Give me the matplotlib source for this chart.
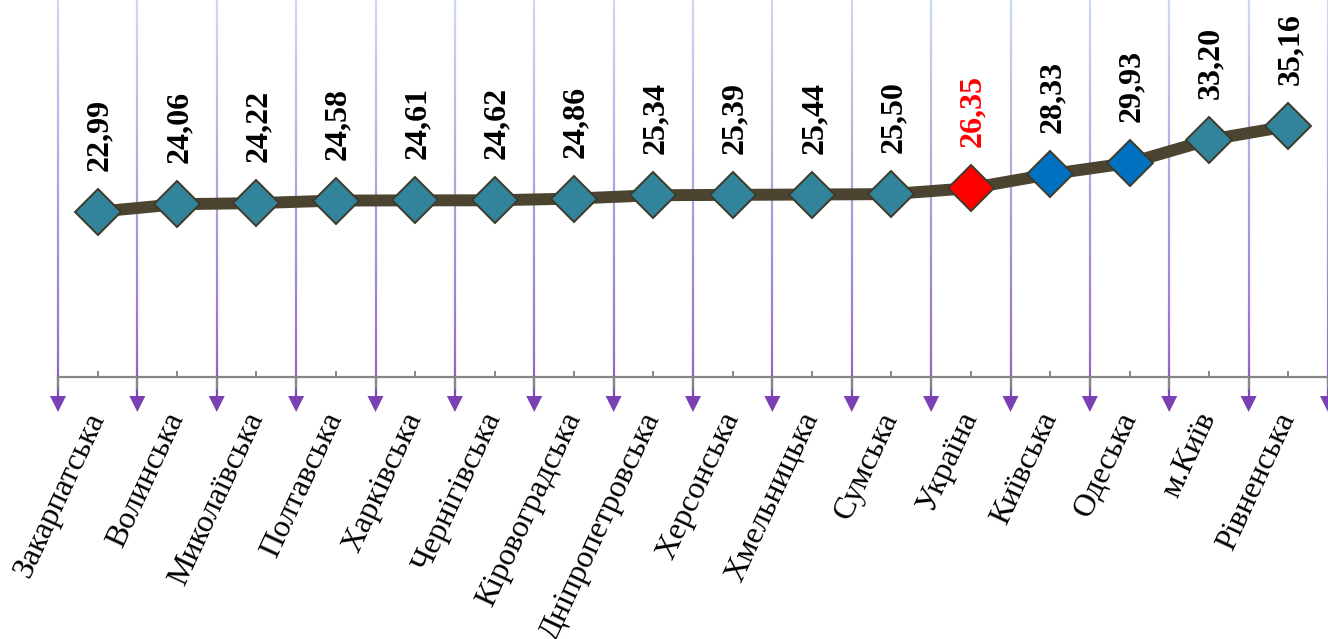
import matplotlib
matplotlib.use("Agg")
import matplotlib.pyplot as plt
import numpy as np
from matplotlib.collections import LineCollection
from matplotlib.patches import Polygon
from matplotlib.ticker import FixedLocator
import matplotlib.transforms as mtransforms

plt.rcParams['font.family'] = ['Liberation Serif', 'DejaVu Serif']

categories = ["Закарпатська", "Волинська", "Миколаївська", "Полтавська", "Харківська",
              "Чернігівська", "Кіровоградська", "Дніпропетровська", "Херсонська",
              "Хмельницька", "Сумська", "Україна", "Київська", "Одеська", "м.Київ",
              "Рівненська"]
values = [22.99, 24.06, 24.22, 24.58, 24.61, 24.62, 24.86, 25.34, 25.39, 25.44,
          25.50, 26.35, 28.33, 29.93, 33.20, 35.16]
value_labels = ["22,99", "24,06", "24,22", "24,58", "24,61", "24,62", "24,86", "25,34",
                "25,39", "25,44", "25,50", "26,35", "28,33", "29,93", "33,20", "35,16"]

teal = "#31849b"
blue = "#0070c0"
red = "#ff0000"
marker_colors = [teal] * 11 + [red, blue, blue, teal, teal]
label_colors = ["black"] * 11 + [red] + ["black"] * 4

W, H = 1328, 639
fig = plt.figure(figsize=(W / 100, H / 100), dpi=100)
axis_px = 376.5
ax = fig.add_axes([58 / W, (H - axis_px) / H, 1270 / W, axis_px / H])
n = len(categories)
x = np.arange(n)
ax.set_xlim(-0.5, n - 0.5)
ax.set_ylim(-0.41, 53.07)

for s in ["top", "left", "right"]:
    ax.spines[s].set_visible(False)
ax.spines["bottom"].set_color("#878787")
ax.spines["bottom"].set_linewidth(1.6)
ax.spines["bottom"].set_zorder(4)
ax.set_yticks([])

# gradient vertical gridlines with arrows at category boundaries
trans = mtransforms.blended_transform_factory(ax.transData, ax.transAxes)
def frac(py):
    return (axis_px - py) / axis_px
top_c = np.array([205, 218, 245]) / 255
mid_c = np.array([150, 110, 200]) / 255
bot_c = np.array([122, 64, 180]) / 255
ys = np.linspace(0, 402, 120)
bounds = np.arange(n + 1) - 0.5
for b in bounds:
    segs = []
    cols = []
    for y0, y1 in zip(ys[:-1], ys[1:]):
        segs.append([(b, frac(y0)), (b, frac(y1))])
        t = (y0 + y1) / 2 / 402
        if t < 0.9:
            c = top_c + (mid_c - top_c) * (t / 0.9)
        else:
            c = mid_c + (bot_c - mid_c) * ((t - 0.9) / 0.1)
        cols.append(c)
    lc = LineCollection(segs, colors=cols, linewidths=1.6, transform=trans,
                        clip_on=False, zorder=1)
    ax.add_collection(lc)
    hw = 8 / 79.375
    tri = Polygon([(b - hw, frac(396)), (b + hw, frac(396)), (b, frac(412))],
                  closed=True, facecolor="#7a40b4", edgecolor="none",
                  transform=trans, clip_on=False, zorder=2)
    ax.add_patch(tri)

# line and markers
ax.plot(x, values, color="#4b4430", linewidth=8.6, zorder=5, solid_capstyle="butt")
for xi, v, mc in zip(x, values, marker_colors):
    ax.plot([xi], [v], marker="D", markersize=23, markerfacecolor=mc,
            markeredgecolor="#3f3a28", markeredgewidth=1.4, linestyle="none", zorder=6)

for xi, v, lab, lc_ in zip(x, values, value_labels, label_colors):
    ax.annotate(lab, (xi, v), xytext=(1.5, 29.5), textcoords="offset points",
                rotation=90, ha="center", va="bottom", fontsize=23,
                fontweight="bold", color=lc_, zorder=7)

# ticks
ax.set_xticks(x)
ax.set_xticklabels(categories)
ax.xaxis.set_minor_locator(FixedLocator(bounds))
ax.tick_params(axis="x", which="major", direction="in", length=4.3, width=1.4,
               color="#878787", pad=27, labelsize=23)
ax.tick_params(axis="x", which="minor", direction="out", length=8.3, width=1.6,
               color="#878787")
for t in ax.get_xticklines(minor=True):
    t.set_zorder(4)
for lbl in ax.get_xticklabels():
    lbl.set_rotation(65)
    lbl.set_ha("right")
    lbl.set_va("center")
    lbl.set_rotation_mode("anchor")

fig.savefig("out.png", dpi=100)
